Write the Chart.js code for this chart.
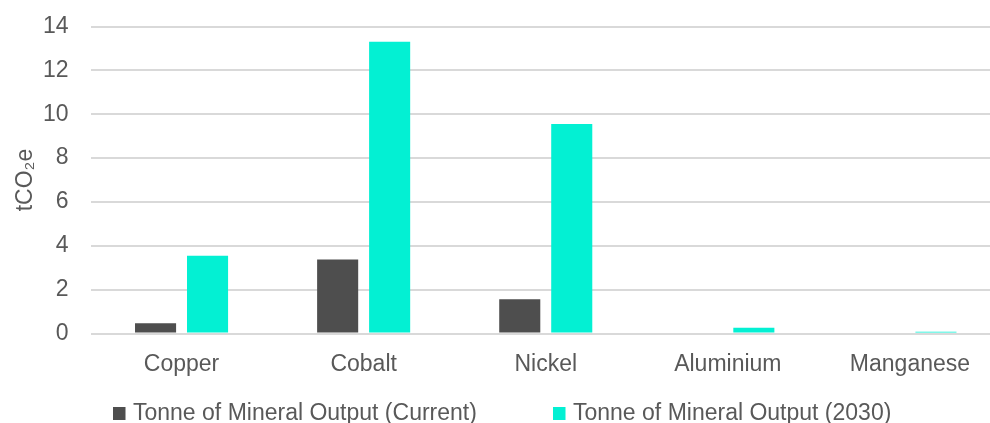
<!DOCTYPE html>
<html>
<head>
<meta charset="utf-8">
<script src="https://cdn.jsdelivr.net/npm/chart.js@4"></script>
<style>
  html, body { margin: 0; padding: 0; overflow: hidden; background: #ffffff; }
  #wrap { position: relative; width: 1001px; height: 423px; }
</style>
</head>
<body>
<div id="wrap"><canvas id="c"></canvas></div>
<script>
const categories = ["Copper", "Cobalt", "Nickel", "Aluminium", "Manganese"];
const seriesNames = ["Tonne of Mineral Output (Current)", "Tonne of Mineral Output (2030)"];
const currentValues = [0.47, 3.38, 1.56, 0, 0];
const values2030 = [3.55, 13.3, 9.55, 0.26, 0.08];
const yTicks = [0, 2, 4, 6, 8, 10, 12, 14];
const yTitle = "tCO₂e";

const FONT = '"Liberation Sans", Arial, sans-serif';
const TEXT = '#595959';

const bottomLegend = {
  id: 'bottomLegend',
  afterDraw(chart) {
    const ctx = chart.ctx;
    const xs = [113, 553];
    const y = 413.5;
    ctx.save();
    ctx.font = '23px ' + FONT;
    ctx.textBaseline = 'middle';
    ctx.textAlign = 'left';
    chart.data.datasets.forEach((ds, i) => {
      ctx.fillStyle = ds.backgroundColor;
      ctx.fillRect(xs[i], y - 6.5, 12.5, 13);
      ctx.fillStyle = TEXT;
      ctx.fillText(ds.label, xs[i] + 20, y);
    });
    ctx.restore();
  }
};

new Chart(document.getElementById('c'), {
  type: 'bar',
  data: {
    labels: categories,
    datasets: [
      { label: seriesNames[0], data: currentValues, backgroundColor: '#4e4e4e',
        categoryPercentage: 0.571, barPercentage: 0.79 },
      { label: seriesNames[1], data: values2030, backgroundColor: '#03f0d3',
        categoryPercentage: 0.571, barPercentage: 0.79 }
    ]
  },
  options: {
    responsive: true,
    maintainAspectRatio: false,
    animation: false,
    layout: { padding: { top: 26.5, right: 0, bottom: 40, left: 0 } },
    plugins: {
      legend: { display: false },
      tooltip: { enabled: false }
    },
    scales: {
      x: {
        grid: { display: false, drawTicks: false },
        border: { display: false },
        ticks: { color: TEXT, font: { family: FONT, size: 23 }, padding: 17, maxRotation: 0 },
        afterFit(scale) { scale.height = 423 - 40 - 333.5; scale.paddingLeft = 0; scale.paddingRight = 0; }
      },
      y: {
        min: 0, max: 14,
        afterBuildTicks(scale) { scale.ticks = yTicks.map(v => ({ value: v })); },
        grid: { color: '#d9d9d9', lineWidth: 2, drawTicks: false },
        border: { display: false },
        ticks: { color: TEXT, font: { family: FONT, size: 23 }, padding: 22 },
        title: { display: true, text: yTitle, color: TEXT, font: { family: FONT, size: 23 }, padding: { top: 12, bottom: 0 } },
        afterFit(scale) { scale.width = 90.5; scale.paddingTop = 0; scale.paddingBottom = 0; }
      }
    }
  },
  plugins: [bottomLegend]
});
</script>
</body>
</html>
